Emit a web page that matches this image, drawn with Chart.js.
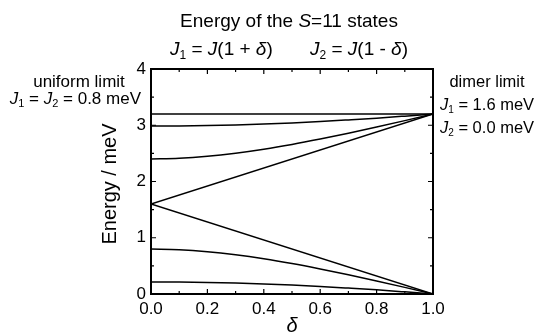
<!DOCTYPE html>
<html>
<head>
<meta charset="utf-8">
<script src="https://cdn.jsdelivr.net/npm/chart.js@4/dist/chart.umd.min.js"></script>
<style>
  html, body { margin: 0; padding: 0; background: #fff; }
  #wrap { width: 538px; height: 336px; }
</style>
</head>
<body>
<div id="wrap"><canvas id="myChart" width="538" height="336"></canvas></div>
<script>
// delta values (x axis)
const delta = [0, 0.1, 0.2, 0.3, 0.4, 0.5, 0.6, 0.7, 0.8, 0.9, 1.0];
const deltaEnds = [0, 1];

// curved levels
const level60Low = [0.214, 0.212, 0.205, 0.194, 0.178, 0.158, 0.134, 0.105, 0.074, 0.038, 0];
const level120Low = [0.8, 0.788, 0.753, 0.698, 0.627, 0.542, 0.446, 0.343, 0.233, 0.118, 0];
const level120High = [2.4, 2.412, 2.447, 2.502, 2.573, 2.658, 2.754, 2.857, 2.967, 3.082, 3.2];
const level60High = [2.986, 2.988, 2.995, 3.006, 3.022, 3.042, 3.066, 3.095, 3.126, 3.162, 3.2];

// straight levels (two end points)
const flatLow = [0, 0];
const lineDown = [1.6, 0];
const lineUp = [1.6, 3.2];
const flatHigh = [3.2, 3.2];

const xTicks = [0, 0.2, 0.4, 0.6, 0.8, 1.0];
const yTicks = [0, 1, 2, 3, 4];

const FONT = '"Liberation Sans", Arial, Helvetica, sans-serif';

const pts = (xs, ys) => xs.map((x, i) => ({ x: x, y: ys[i] }));

const mkSet = (xs, ys, curved) => ({
  data: pts(xs, ys),
  borderColor: '#000',
  borderWidth: 1.5,
  pointRadius: 0,
  fill: false,
  tension: curved ? 0.4 : 0,
  cubicInterpolationMode: curved ? 'monotone' : 'default'
});

// draw a line of mixed text: [text, italic, sub]
function richText(ctx, parts, x, y, size, align) {
  const subSize = Math.round(size * 0.62);
  let total = 0;
  parts.forEach(p => {
    ctx.font = (p[1] ? 'italic ' : '') + (p[2] ? subSize : size) + 'px ' + FONT;
    total += ctx.measureText(p[0]).width;
  });
  let cx = align === 'center' ? x - total / 2 : (align === 'right' ? x - total : x);
  ctx.textAlign = 'left';
  ctx.textBaseline = 'middle';
  parts.forEach(p => {
    ctx.font = (p[1] ? 'italic ' : '') + (p[2] ? subSize : size) + 'px ' + FONT;
    ctx.fillText(p[0], cx, p[2] ? y + size * 0.3 : y);
    cx += ctx.measureText(p[0]).width;
  });
}

const framePlugin = {
  id: 'frame',
  afterDatasetsDraw(chart) {
    const ctx = chart.ctx;
    const a = chart.chartArea;
    const xs = chart.scales.x, ys = chart.scales.y;
    ctx.save();
    ctx.strokeStyle = '#000';
    ctx.lineWidth = 2;
    ctx.strokeRect(a.left, a.top, a.right - a.left, a.bottom - a.top);
    ctx.lineWidth = 1.2;
    ctx.beginPath();
    for (let i = 0; i <= 10; i++) {
      const v = i / 10;
      const len = i % 2 === 0 ? 5 : 3;
      const px = xs.getPixelForValue(v);
      ctx.moveTo(px, a.bottom); ctx.lineTo(px, a.bottom - len);
      ctx.moveTo(px, a.top); ctx.lineTo(px, a.top + len);
    }
    for (let i = 0; i <= 8; i++) {
      const v = i / 2;
      const len = i % 2 === 0 ? 5 : 3;
      const py = ys.getPixelForValue(v);
      ctx.moveTo(a.left, py); ctx.lineTo(a.left + len, py);
      ctx.moveTo(a.right, py); ctx.lineTo(a.right - len, py);
    }
    ctx.stroke();
    ctx.restore();
  },
  afterDraw(chart) {
    const ctx = chart.ctx;
    ctx.save();
    ctx.fillStyle = '#000';
    richText(ctx, [['Energy of the '], ['S', true], ['=11 states']], 289, 22, 19, 'center');
    richText(ctx, [['J', true], ['1', false, true], [' = '], ['J', true], ['(1 + '], ['\u03B4', true], [')']], 170, 50, 19, 'left');
    richText(ctx, [['J', true], ['2', false, true], [' = '], ['J', true], ['(1 - '], ['\u03B4', true], [')']], 310, 50, 19, 'left');

    richText(ctx, [['uniform limit']], 79, 82, 17, 'center');
    richText(ctx, [['J', true], ['1', false, true], [' = '], ['J', true], ['2', false, true], [' = 0.8 meV']], 141, 99, 17, 'right');

    richText(ctx, [['dimer limit']], 487, 82, 16.5, 'center');
    richText(ctx, [['J', true], ['1', false, true], [' = 1.6 meV']], 440, 105, 16.5, 'left');
    richText(ctx, [['J', true], ['2', false, true], [' = 0.0 meV']], 440, 128, 16.5, 'left');

    richText(ctx, [['\u03B4', true]], 292, 326, 20, 'center');

    ctx.translate(110, 184);
    ctx.rotate(-Math.PI / 2);
    richText(ctx, [['Energy / meV']], 0, 0, 20, 'center');
    ctx.restore();
  }
};

const ctx = document.getElementById('myChart').getContext('2d');
let myChart = new Chart(ctx, {
  type: 'line',
  data: {
    datasets: [
      mkSet(deltaEnds, flatLow, false),
      mkSet(delta, level60Low, true),
      mkSet(delta, level120Low, true),
      mkSet(deltaEnds, lineDown, false),
      mkSet(deltaEnds, lineUp, false),
      mkSet(delta, level120High, true),
      mkSet(delta, level60High, true),
      mkSet(deltaEnds, flatHigh, false)
    ]
  },
  options: {
    responsive: false,
    animation: false,
    events: [],
    layout: { padding: { left: 0, top: 69, right: 105, bottom: 0 } },
    plugins: { legend: { display: false }, title: { display: false }, tooltip: { enabled: false } },
    scales: {
      x: {
        type: 'linear', min: 0, max: 1,
        afterBuildTicks: s => { s.ticks = xTicks.map(v => ({ value: v })); },
        afterFit: s => { s.height = 42; },
        grid: { display: false, drawTicks: false },
        border: { display: false },
        ticks: { padding: 5, color: '#000', font: { family: FONT, size: 17 }, callback: v => v.toFixed(1) }
      },
      y: {
        type: 'linear', min: 0, max: 4,
        afterBuildTicks: s => { s.ticks = yTicks.map(v => ({ value: v })); },
        afterFit: s => { s.width = 151; },
        grid: { display: false, drawTicks: false },
        border: { display: false },
        ticks: { padding: 5, color: '#000', font: { family: FONT, size: 17 } }
      }
    }
  },
  plugins: [framePlugin]
});
</script>
</body>
</html>
